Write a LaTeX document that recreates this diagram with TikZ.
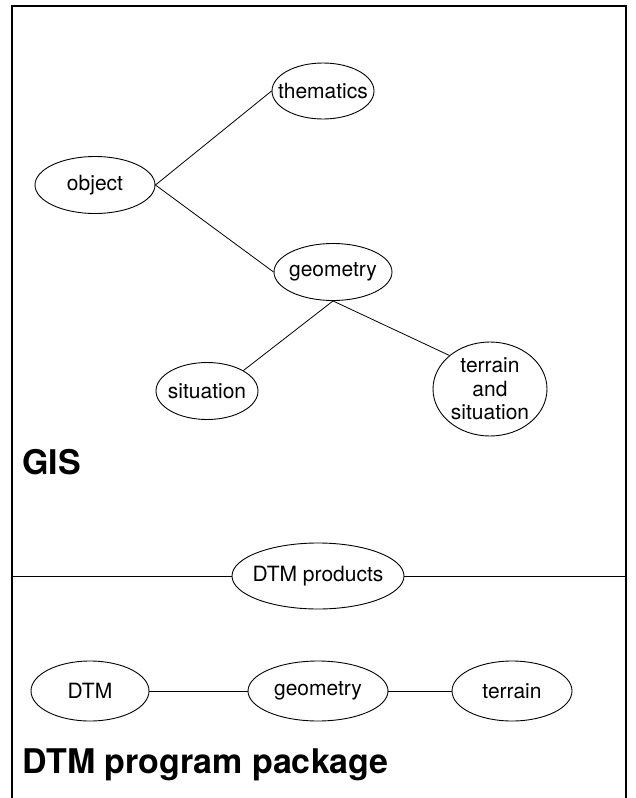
\documentclass[tikz,border=0pt]{standalone}
\usepackage{fontspec}
\setmainfont{TeX Gyre Heros}
\usetikzlibrary{shapes.geometric}
\newcommand{\mkz}[1]{\makebox[0pt]{#1}}
\begin{document}
\begin{tikzpicture}[x=1pt,y=-1pt,
  ell/.style={draw, ellipse, inner sep=0pt, line width=0.9pt, font=\fontsize{21}{23.5}\selectfont, align=center},
  conn/.style={line width=0.8pt},
  frame/.style={line width=1.1pt},
  title/.style={anchor=west, inner sep=0pt, font=\fontsize{34}{38}\selectfont\bfseries}]
\useasboundingbox (0,0) rectangle (635,798);
% frame
\coordinate (bl) at (12,798);
\coordinate (tl) at (12,6);
\coordinate (tr) at (626,6);
\coordinate (br) at (626,798);
\draw[frame] (bl) -- (tl) -- (tr) -- (br);
% upper part
\node[ell, minimum width=102pt, minimum height=56pt] (them) at (323,91) {\mkz{thematics}};
\node[ell, minimum width=120pt, minimum height=57pt] (obj) at (95,185) {\mkz{object}};
\node[ell, minimum width=118pt, minimum height=57pt] (geo) at (333,272) {\mkz{geometry}};
\node[ell, minimum width=102pt, minimum height=57pt] (sit) at (207,391) {\mkz{situation}};
\node[ell, minimum width=114pt, minimum height=94pt] (ter) at (490,389) {\mkz{terrain}\\\mkz{and}\\\mkz{situation}};
\draw[conn] (obj.east) -- (them.west);
\draw[conn] (obj.east) -- (geo.west);
\draw[conn] (geo.south) -- (sit.north east);
\draw[conn] (geo.south) -- (ter.north west);
\node[title] (gis) at (22,462) {GIS};
% divider
\node[ell, minimum width=172pt, minimum height=66pt] (prod) at (318,576) {\mkz{DTM products}};
\coordinate (dl) at (12,576);
\coordinate (dr) at (626,576);
\draw[conn] (dl) -- (prod.west);
\draw[conn] (prod.east) -- (dr);
% lower part
\node[ell, minimum width=118pt, minimum height=60pt] (dtm) at (90,691) {\mkz{DTM}};
\node[ell, minimum width=140pt, minimum height=60pt] (geo2) at (318,691) {\mkz{geometry}};
\node[ell, minimum width=120pt, minimum height=60pt] (terr) at (512,691) {\mkz{terrain}};
\draw[conn] (dtm.east) -- (geo2.west);
\draw[conn] (geo2.east) -- (terr.west);
\node[title] (pkg) at (22,765) {DTM program package};
\end{tikzpicture}
\end{document}
